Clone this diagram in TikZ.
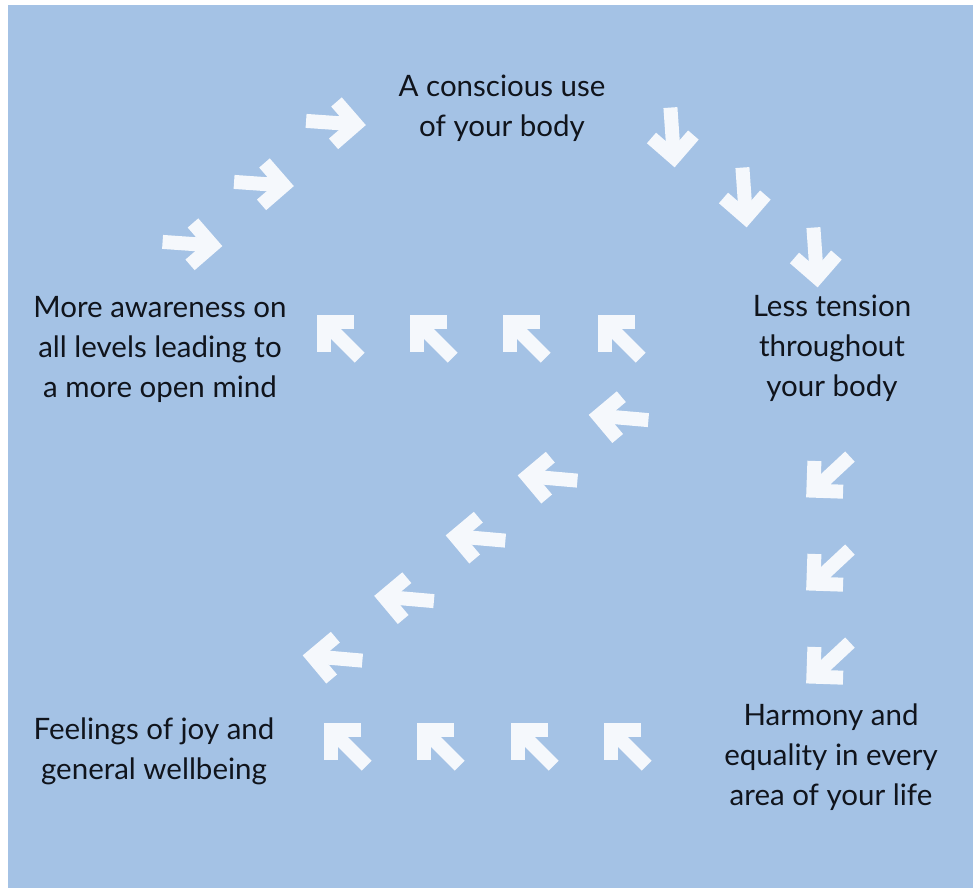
\documentclass[tikz,border=0pt]{standalone}
\usepackage{fontspec}
\setmainfont{Lato}
\definecolor{bgblue}{HTML}{A4C2E5}
\definecolor{arrwhite}{HTML}{F5F8FC}
\definecolor{txtcol}{HTML}{10141C}
\tikzset{
  arrowline/.style={draw=arrwhite, line width=14pt, line cap=butt},
  arr/.pic={
    \draw[arrowline] (-30,0) -- (20,0);
    \draw[arrowline, line join=miter] (-1,21) -- (20,0) -- (-1,-21);
  },
  label/.style={font=\fontsize{29.5}{40}\selectfont, text=txtcol, align=center, inner sep=0pt}
}
\begin{document}
\begin{tikzpicture}[x=1pt,y=-1pt]
\useasboundingbox (0,0) rectangle (973,888);
\fill[white] (0,0) rectangle (973,888);
\fill[bgblue] (8,5) rectangle (973,888);
% rising arrows (right)
\pic[rotate=-4] at (192.5,244) {arr};
\pic[rotate=-4] at (264,184) {arr};
\pic[rotate=-4] at (336,123) {arr};
% descending arrows (down)
\pic[rotate=-86] at (672.5,137.5) {arr};
\pic[rotate=-86] at (744.5,197.5) {arr};
\pic[rotate=-86] at (815.5,257.5) {arr};
% right column (down-left)
\pic[rotate=-137] at (828,477) {arr};
\pic[rotate=-137] at (828,570) {arr};
\pic[rotate=-137] at (828,663) {arr};
% upper row (up-left)
\pic[rotate=135] at (338.5,336.5) {arr};
\pic[rotate=135] at (431.5,336.5) {arr};
\pic[rotate=135] at (524.5,336.5) {arr};
\pic[rotate=135] at (619.5,336.5) {arr};
% diagonal (left)
\pic[rotate=175] at (618.5,417.5) {arr};
\pic[rotate=175] at (547.5,478) {arr};
\pic[rotate=175] at (475.5,538) {arr};
\pic[rotate=175] at (404,598.5) {arr};
\pic[rotate=175] at (332.5,658) {arr};
% bottom row (up-left)
\pic[rotate=135] at (345.5,744.5) {arr};
\pic[rotate=135] at (438.5,744.5) {arr};
\pic[rotate=135] at (532.5,744.5) {arr};
\pic[rotate=135] at (625.5,744.5) {arr};
% texts
\node[label] (body) at (502,108) {A conscious use\\of your body};
\node[label] (tension) at (832,348) {Less tension\\throughout\\your body};
\node[label] (awareness) at (160,349) {More awareness on\\all levels leading to\\a more open mind};
\node[label] (harmony) at (831,757) {Harmony and\\equality in every\\area of your life};
\node[label] (joy) at (154,751) {Feelings of joy and\\general wellbeing};
\end{tikzpicture}
\end{document}
